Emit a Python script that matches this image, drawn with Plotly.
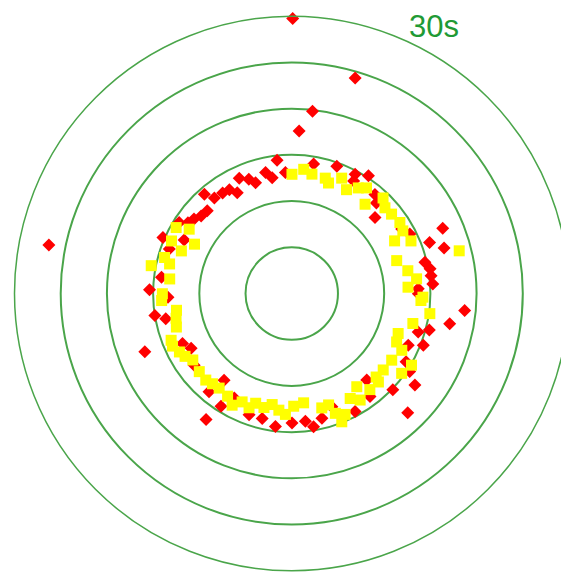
import plotly.graph_objects as go

# Red diamonds: radial value (s) and angle (deg, counter-clockwise from east)
red_r = [14.5, 13.1, 13.7, 13.2, 12.6, 13.4, 12.7, 14.3, 13.3, 13.2, 13.1, 12.4,
         12.8, 12.9, 13.3, 14.4, 13.6, 15.2, 13.0, 14.1, 14.2, 15.4, 13.4,
         14.2, 14.6, 14.6, 15.2, 13.9, 14.0, 13.4, 12.2, 13.8, 14.3, 17.8, 15.9,
         17.2, 14.8, 15.2, 15.2, 15.3, 13.7,
         15.0, 13.9, 17.1, 13.0, 12.4, 13.1, 11.9, 13.9, 12.9, 14.4, 16.5, 13.9,
         13.9, 14.5, 14.0,
         13.7, 18.8, 17.4, 15.4, 14.3, 15.3, 13.8, 14.4, 15.3, 16.6, 15.1, 12.4,
         14.0, 14.5, 18.0, 13.0, 13.9, 13.9, 14.6,
         29.75, 24.3, 19.85, 17.6, 26.8]
red_theta = [96.3, 93.0, 114.5, 110.6, 108.1, 102.2, 99.6, 131.4, 129.0, 124.5, 121.0, 118.4,
             135.6, 139.5, 142.7, 147.8, 145.7, 156.5, 153.6, 160.0, 172.9, 178.5, 181.7,
             80.4, 70.5, 62.0, 56.9, 61.2, 50.0, 46.9, 42.4, 30.4, 26.7, 23.4, 20.3,
             16.6, 13.2, 10.1, 7.3, 3.9, 2.1,
             189.1, 191.3, 201.6, 204.6, 208.6, 216.3, 232.0, 229.9, 241.2, 237.9, 235.8, 250.6,
             256.7, 263.0, 270.1,
             359.9, 354.4, 349.2, 345.1, 343.1, 338.5, 336.0, 329.2, 326.5, 323.4, 316.4, 310.9,
             307.2, 298.2, 314.2, 289.5, 283.6, 276.1, 279.3,
             89.8, 73.6, 83.5, 87.4, 168.7]

# Yellow squares
yellow_r = [12.9, 14.4, 13.1, 14.2, 11.8, 12.8, 14.3, 15.5, 13.6, 13.3, 14.0,
            13.5, 13.1, 13.0, 12.6, 13.6, 12.7, 13.5, 14.0, 12.5, 14.3, 13.7, 13.8,
            14.0, 13.8, 12.5, 14.1, 11.9, 18.7, 12.8, 13.6, 12.6, 14.2,
            14.1, 12.6, 13.0, 14.0, 13.7, 12.9, 13.1, 13.2, 12.9, 13.1, 13.7, 12.9,
            12.5, 12.2, 13.1, 12.2,
            14.0, 15.1, 13.5, 12.3, 12.5, 13.4, 13.0, 15.1, 12.9, 14.7, 13.4, 12.3,
            13.4, 13.0, 13.7, 14.3, 13.8, 12.8, 11.9, 14.9,
            12.8, 14.1, 13.4, 13.0, 13.2, 12.7, 12.7, 12.7, 12.85]
yellow_theta = [89.9, 150.3, 147.9, 156.4, 153.1, 158.9, 164.2, 168.8, 166.4, 173.2, 180.1,
                84.5, 80.4, 73.8, 71.6, 66.6, 62.2, 57.8, 54.7, 50.6, 46.3, 42.6, 38.5,
                33.3, 29.4, 27.1, 23.8, 17.4, 14.3, 11.1, 6.7, 3.1, 358.4,
                183.1, 188.3, 196.2, 201.2, 207.5, 213.9, 220.2, 225.2, 232.5, 238.0, 241.9, 245.4,
                251.8, 260.0, 267.0, 271.0,
                356.9, 351.7, 346.1, 339.4, 335.2, 332.7, 326.3, 329.1, 320.1, 324.0, 314.4, 304.9,
                309.1, 299.1, 302.7, 293.8, 290.0, 284.7, 276.2, 291.3,
                192.1, 203.8, 210.5, 228.7, 249.5, 256.3, 263.7, 288.3, 315.3]

ring_vals = [5, 10, 15, 20, 25]
r_max = 30
ring_color = "#4aa54a"

# the page body adds an 8px offset; compensate in the domain
off = 8
W, H = 569, 576
cx, cy_top, rad = 291.75 - off, 293.5 - off, 277.25
cy = H - cy_top

fig = go.Figure()
fig.add_trace(go.Scatterpolar(
    r=red_r, theta=red_theta, mode="markers",
    marker=dict(symbol="diamond", size=10, color="#ff0000", line=dict(width=0)),
    hoverinfo="skip", showlegend=False))
fig.add_trace(go.Scatterpolar(
    r=yellow_r, theta=yellow_theta, mode="markers",
    marker=dict(symbol="square", size=11, color="#ffff00", line=dict(width=0)),
    hoverinfo="skip", showlegend=False))

fig.update_layout(
    width=W, height=H,
    margin=dict(l=0, r=0, t=0, b=0),
    paper_bgcolor="white",
    polar=dict(
        domain=dict(x=[(cx - rad) / W, (cx + rad) / W], y=[(cy - rad) / H, (cy + rad) / H]),
        bgcolor="white",
        radialaxis=dict(range=[0, r_max], tickvals=ring_vals, showticklabels=False,
                        ticks="", showline=False, gridcolor=ring_color, gridwidth=1.5),
        angularaxis=dict(showgrid=False, showticklabels=False, ticks="",
                         showline=True, linecolor=ring_color, linewidth=1.5),
    ),
    annotations=[dict(text="30s", x=(434 - off) / W, y=1.0,
                      xref="paper", yref="paper", borderpad=0,
                      showarrow=False, xanchor="center", yanchor="top",
                      font=dict(family="Liberation Sans, Arial", size=31, color="#1f9a35"))],
)

fig.write_html("out.html")
